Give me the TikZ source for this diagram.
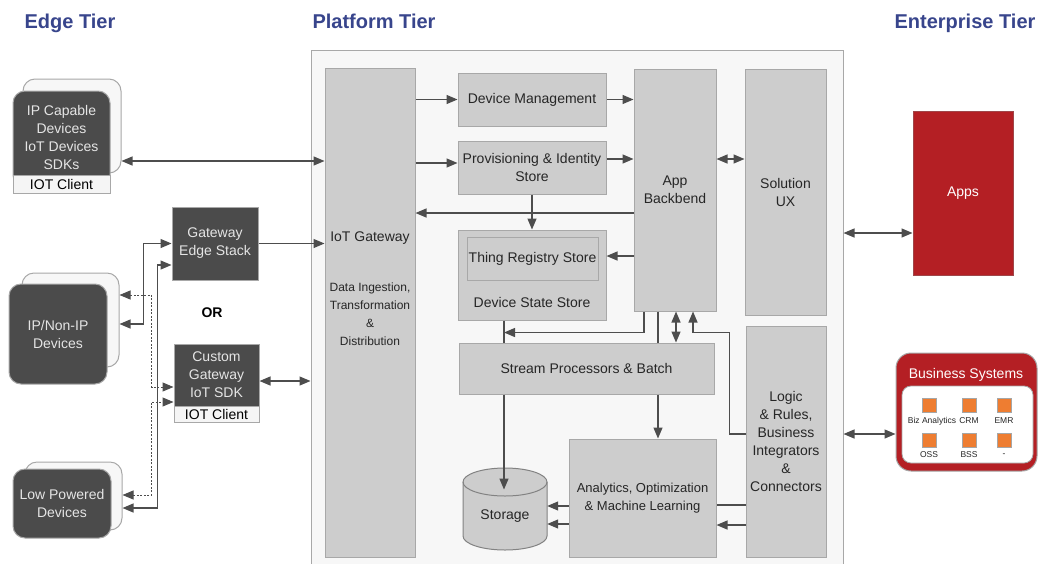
\documentclass[tikz,border=0pt]{standalone}
\usepackage{fontspec}
\setmainfont{Liberation Sans}
\usetikzlibrary{arrows.meta,calc}

\definecolor{tierblue}{HTML}{38458C}
\definecolor{platbg}{HTML}{F7F7F7}
\definecolor{edgegray}{HTML}{A8A8A8}
\definecolor{boxgray}{HTML}{CDCDCD}
\definecolor{darkcard}{HTML}{4B4B4B}
\definecolor{linegray}{HTML}{4D4D4D}
\definecolor{appred}{HTML}{B41F24}
\definecolor{sysorange}{HTML}{EE7D31}

\tikzset{
  bodyfont/.style={font=\fontsize{14}{18}\selectfont},
  tier/.style={anchor=base, text=tierblue, font=\bfseries\fontsize{20}{24}\selectfont},
  platform/.style={draw=edgegray, fill=platbg, line width=1pt, inner sep=0pt},
  lbox/.style={draw=edgegray, fill=boxgray, line width=1pt, inner sep=0pt,
    align=center, bodyfont, text=black!85},
  dbox/.style={draw=edgegray, fill=darkcard, line width=1pt, inner sep=0pt,
    align=center, bodyfont, text=white!90!black},
  dcard/.style={dbox, rounded corners=12pt},
  backcard/.style={draw=edgegray, fill=platbg, line width=1pt, rounded corners=12pt, inner sep=0pt},
  clientstrip/.style={draw=edgegray, fill=white!96!black, line width=1pt, inner sep=0pt,
    bodyfont, text=black},
  txt/.style={align=center, bodyfont, text=black!85, inner sep=0pt},
  redbox/.style={draw=appred!60!gray, fill=appred, line width=1pt, inner sep=0pt,
    bodyfont, text=white},
  sysbox/.style={draw=gray!70, fill=sysorange, line width=0.8pt, minimum size=14pt, inner sep=0pt},
  syslabel/.style={font=\fontsize{8.5}{10}\selectfont, text=black!85, inner sep=0pt},
  plain/.style={draw=linegray, line width=1.3pt},
  arr/.style={plain, -{Triangle[length=11pt,width=9pt]}},
  dbl/.style={plain, {Triangle[length=11pt,width=9pt]}-{Triangle[length=11pt,width=9pt]}},
  dashdbl/.style={dbl, line width=1pt, dash pattern=on 2pt off 1.5pt},
  cyl/.style={draw=linegray!70, fill=boxgray, line width=1pt},
}

\begin{document}
\begin{tikzpicture}[x=1pt,y=-1pt]
\useasboundingbox (0,0) rectangle (1039,563);

% tier headings
\node[tier] (edgetitle) at (70,28) {Edge Tier};
\node[tier] (plattitle) at (374,28) {Platform Tier};
\node[tier] (enttitle) at (965,28) {Enterprise Tier};

% ---------- edge tier ----------
\node[backcard, minimum width=98, minimum height=94] (ipback) at (72,126) {};
\node[dcard, minimum width=97, minimum height=96] (ipfront) at (61.5,139) {};
\node[dbox, draw=none, fill=none] (iptext) at (61.5,137) {IP Capable\\Devices\\IoT Devices\\SDKs};
\node[clientstrip, minimum width=97, minimum height=18] (ipclient) at (61.5,184) {IOT Client};

\node[dbox, minimum width=86, minimum height=73] (gwes) at (215,243.5) {Gateway\\Edge Stack};

\node[backcard, minimum width=97, minimum height=94] (nipback) at (70.5,320) {};
\node[dcard, minimum width=98, minimum height=100] (nipfront) at (58,334) {IP/Non-IP\\Devices};

\node[font=\bfseries\fontsize{14}{18}\selectfont, text=black, inner sep=0pt] (ortext) at (212,313) {OR};

\node[dbox, minimum width=85, minimum height=62] (cgw) at (216.5,375) {Custom\\Gateway\\IoT SDK};
\node[clientstrip, minimum width=85, minimum height=16] (cclient) at (216.5,414) {IOT Client};

\node[backcard, minimum width=97, minimum height=68] (lpback) at (73.5,496) {};
\node[dcard, minimum width=98, minimum height=69] (lpfront) at (62,503.5) {Low Powered\\Devices};

% ---------- platform tier ----------
\node[platform, minimum width=532, minimum height=520] (plat) at (577,310) {};

\node[lbox, minimum width=90, minimum height=489] (gw) at (370,312.5) {};
\node[txt] (gwtitle) at (370,238) {IoT Gateway};
\node[txt, font=\fontsize{12}{18}\selectfont] (gwtext) at (370,314) {Data Ingestion,\\Transformation\\\&\\Distribution};

\node[lbox, minimum width=148, minimum height=53] (dm) at (532,99.5) {Device Management};
\node[lbox, minimum width=148, minimum height=53] (prov) at (532,167.5) {Provisioning \& Identity\\Store};
\node[lbox, minimum width=148, minimum height=90] (dss) at (532,275) {};
\node[lbox, minimum width=131, minimum height=43] (trs) at (532.5,258.5) {Thing Registry Store};
\node[txt] (dsstext) at (532,302) {Device State Store};

\node[lbox, minimum width=82, minimum height=242] (ab) at (675,190) {App\\Backbend};
\node[lbox, minimum width=81, minimum height=246] (ux) at (785.5,192) {Solution\\UX};
\node[lbox, minimum width=255, minimum height=51] (sp) at (586.5,368.5) {Stream Processors \& Batch};
\node[lbox, minimum width=147, minimum height=118, font=\fontsize{13}{18}\selectfont] (an) at (642.5,498) {Analytics, Optimization\\\& Machine Learning};
\node[lbox, minimum width=80, minimum height=231] (lr) at (786,441.5) {Logic\\\& Rules,\\Business\\Integrators\\\&\\Connectors};

% storage drum
\node[minimum width=84, minimum height=82, inner sep=0pt] (storage) at (505,509) {};
\path[cyl] ($(storage.center)+(-42,-27)$) -- ($(storage.center)+(-42,27)$)
  arc[start angle=180, end angle=360, x radius=42pt, y radius=14pt]
  -- ($(storage.center)+(42,-27)$)
  arc[start angle=0, end angle=180, x radius=42pt, y radius=14pt] -- cycle;
\draw[cyl, fill=none] ($(storage.center)+(-42,-27)$)
  arc[start angle=180, end angle=360, x radius=42pt, y radius=14pt];
\node[txt] (storetext) at (505,516) {Storage};

% ---------- enterprise tier ----------
\node[redbox, minimum width=100, minimum height=164] (apps) at (963,193) {Apps};

\node[draw=gray!70, fill=appred, line width=1pt, rounded corners=15pt,
  minimum width=141, minimum height=118, inner sep=0pt] (bs) at (966.5,412) {};
\node[draw=gray!70, fill=white, line width=0.8pt, rounded corners=9pt,
  minimum width=131, minimum height=77, inner sep=0pt] (bsin) at (967.5,424.5) {};
\node[bodyfont, text=white, inner sep=0pt] (bstitle) at (966,375) {Business Systems};

\node[sysbox] (sq1) at (929,405) {};
\node[sysbox] (sq2) at (969,405) {};
\node[sysbox] (sq3) at (1004,405) {};
\node[sysbox] (sq4) at (929,440) {};
\node[sysbox] (sq5) at (969,440) {};
\node[sysbox] (sq6) at (1004,440) {};
\node[syslabel] (lb1) at (932,421) {Biz Analytics};
\node[syslabel] (lb2) at (969,421) {CRM};
\node[syslabel] (lb3) at (1004,421) {EMR};
\node[syslabel] (lb4) at (929,455) {OSS};
\node[syslabel] (lb5) at (969,455) {BSS};
\node[syslabel] (lb6) at (1004,455) {-};

% ---------- edge connectors ----------
\coordinate (ipc) at ($(ipback.east)+(0,35)$);
\draw[dbl] (ipc) -- (gw.west |- ipc);
\draw[arr] (gwes.east) -- (gw.west |- gwes.east);
\coordinate (cgwc) at ($(cgw.east)+(0,6)$);
\draw[dbl] (cgwc) -- (plat.west |- cgwc);

\draw[dbl] ($(nipback.east)+(0,4)$) -- ++(24,0) |- (gwes.west);
\draw[dbl] ($(lpback.east)+(0,12)$) -- ++(35,0) |- ($(gwes.west)+(0,21.5)$);
\draw[dashdbl] ($(nipback.east)+(0,-25)$) -- ++(32,0) |- ($(cgw.west)+(0,12)$);
\draw[dashdbl] ($(lpback.east)+(0,-1)$) -- ++(29,0) |- ($(cgw.west)+(0,27)$);

% ---------- platform connectors ----------
\draw[arr] (gw.east |- dm.west) -- (dm.west);
\draw[arr] (dm.east) -- (ab.west |- dm.east);
\coordinate (provin) at ($(prov.west)+(0,-4.5)$);
\draw[arr] (gw.east |- provin) -- (provin);
\coordinate (provout) at ($(prov.east)+(0,-8.5)$);
\draw[arr] (provout) -- (ab.west |- provout);
\draw[arr] (prov.south) -- (dss.north);
\coordinate (abgw) at ($(ab.west)+(0,23)$);
\draw[arr] (abgw) -- (gw.east |- abgw);
\coordinate (abtrs) at ($(ab.west)+(0,66)$);
\draw[arr] (abtrs) -- (dss.east |- abtrs);
\coordinate (abux) at ($(ab.east)+(0,-31)$);
\draw[dbl] (abux) -- (ux.west |- abux);

\coordinate (dssout) at ($(dss.south)+(-28,0)$);
\draw[plain] (dssout) -- (dssout |- sp.north);
\draw[arr] ($(ab.south)+(-31,0)$) |- ($(dssout)+(0,12)$);
\coordinate (abs1) at ($(ab.south)+(-17,0)$);
\draw[plain] (abs1) -- (abs1 |- sp.north);
\coordinate (abs2) at ($(ab.south)+(1,0)$);
\draw[dbl] (abs2) -- (abs2 |- sp.north);
\draw[arr] ($(lr.west)+(0,-7.5)$) -- ++(-16,0) |- ($(ab.south)+(18,21)$) -- ($(ab.south)+(18,0)$);

\coordinate (sps) at ($(sp.south)+(71.5,0)$);
\draw[arr] (sps) -- (sps |- an.north);
\coordinate (spl) at ($(sp.south)+(-82.5,0)$);
\draw[arr] (spl) -- ++(0,95);

\coordinate (ans1) at ($(an.west)+(0,8)$);
\draw[arr] (ans1) -- (storage.east |- ans1);
\coordinate (ans2) at ($(an.west)+(0,26)$);
\draw[arr] (ans2) -- (storage.east |- ans2);
\coordinate (lra1) at ($(lr.west)+(0,63.5)$);
\draw[plain] (lra1) -- (an.east |- lra1);
\coordinate (lra2) at ($(lr.west)+(0,83.5)$);
\draw[arr] (lra2) -- (an.east |- lra2);

% ---------- enterprise connectors ----------
\coordinate (pa) at ($(apps.west)+(0,40)$);
\draw[dbl] (plat.east |- pa) -- (pa);
\coordinate (pb) at ($(bs.west)+(0,22)$);
\draw[dbl] (plat.east |- pb) -- (pb);
\end{tikzpicture}
\end{document}
